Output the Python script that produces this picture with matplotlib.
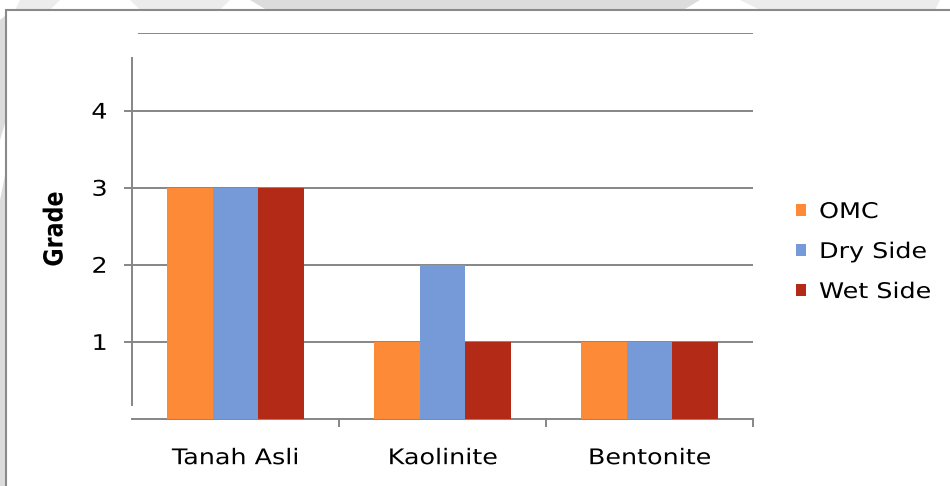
import matplotlib
matplotlib.use("Agg")
import matplotlib.pyplot as plt
import numpy as np
from matplotlib.patches import Rectangle, Polygon
from matplotlib.patheffects import AbstractPathEffect
from matplotlib.transforms import Affine2D

# ---- data ---------------------------------------------------------------
categories = ["Tanah Asli", "Kaolinite", "Bentonite"]
series_names = ["OMC", "Dry Side", "Wet Side"]
omc = [3, 1, 1]
dry_side = [3, 2, 1]
wet_side = [3, 1, 1]
y_ticks = [1, 2, 3, 4]
y_label = "Grade"

series_values = [omc, dry_side, wet_side]
series_colors = ["#FD8A37", "#7699D7", "#B32B17"]

W, H = 950, 486
GRID = "#868686"


class WideText(AbstractPathEffect):
    """Draw text stretched horizontally (Verdana-like wide letterforms)."""

    def __init__(self, sx=1.18, anchor="center"):
        super().__init__()
        self.sx = sx
        self.anchor = anchor

    def draw_path(self, renderer, gc, tpath, affine, rgbFace=None):
        if not len(tpath.vertices):
            renderer.draw_path(gc, tpath, affine, rgbFace)
            return
        verts = affine.transform(tpath.vertices)
        if self.anchor == "left":
            cx = verts[:, 0].min()
        elif self.anchor == "right":
            cx = verts[:, 0].max()
        else:
            cx = 0.5 * (verts[:, 0].min() + verts[:, 0].max())
        aff = affine + Affine2D().translate(-cx, 0).scale(self.sx, 1).translate(cx, 0)
        renderer.draw_path(gc, tpath, aff, rgbFace)


def fx(x):
    return x / W


def fy(y):
    return 1 - y / H


plt.rcParams["font.family"] = ["DejaVu Sans"]
fig = plt.figure(figsize=(W / 100, H / 100), dpi=100)
fig.patch.set_facecolor("white")

# faint background print around the chart frame
wm = "#dcdcdc"
for pts in [
    [(250, 0), (700, 0), (680, 12), (270, 12)],
    [(0, 200), (6, 170), (6, 486), (0, 486)],
    [(0, 20), (6, 15), (6, 120), (0, 140)],
]:
    fig.patches.append(Polygon([(fx(a), fy(b)) for a, b in pts], closed=True,
                               transform=fig.transFigure, facecolor=wm,
                               edgecolor="none", zorder=0))
for pts in [
    [(20, 0), (60, 0), (50, 10), (15, 10)],
    [(130, 0), (230, 0), (220, 10), (140, 10)],
    [(740, 0), (940, 0), (935, 10), (760, 10)],
]:
    fig.patches.append(Polygon([(fx(a), fy(b)) for a, b in pts], closed=True,
                               transform=fig.transFigure, facecolor="#ececec",
                               edgecolor="none", zorder=0))

# chart area frame
fig.patches.append(Rectangle((fx(6), fy(490)), fx(960) - fx(6), fy(10) - fy(490),
                             transform=fig.transFigure, facecolor="white",
                             edgecolor="#8a8a8a", linewidth=1.5, zorder=1))

ax = fig.add_axes([fx(132), fy(419), fx(753) - fx(132), (419 - 33.5) / H])
ax.set_zorder(2)
ax.patch.set_alpha(0)

x = np.arange(len(categories))
bar_w = 0.2222
offsets = (np.arange(len(series_names)) - 1) * bar_w
for vals, name, col, off in zip(series_values, series_names, series_colors, offsets):
    ax.bar(x + off, vals, width=bar_w, color=col, label=name, zorder=3,
           linewidth=0)

ax.set_xlim(-0.5, len(categories) - 0.5)
ax.set_ylim(0, 5)

# gridlines / axes
ax.set_yticks(y_ticks)
ax.set_yticklabels([str(v) for v in y_ticks])
ax.yaxis.grid(True, color=GRID, linewidth=1.4)
ax.set_axisbelow(True)
ax.axhline(5, xmin=7 / 621, xmax=1, color=GRID, linewidth=1.4, zorder=1)
ax.tick_params(axis="y", length=5.8, width=1.4, color=GRID, direction="out",
               pad=12, labelsize=15.5, labelcolor="black")

ax.set_xticks(x)
ax.set_xticklabels(categories)
ax.set_xticks(list(x[:-1] + 0.5) + [len(categories) - 0.5], minor=True)
ax.tick_params(axis="x", which="major", length=0, pad=21, labelsize=15.5)
ax.tick_params(axis="x", which="minor", length=5.8, width=1.4, color=GRID,
               direction="out")

for s in ["top", "right"]:
    ax.spines[s].set_visible(False)
ax.spines["left"].set_color(GRID)
ax.spines["left"].set_linewidth(1.4)
ax.spines["left"].set_bounds(0.18, 4.68)
ax.spines["bottom"].set_color(GRID)
ax.spines["bottom"].set_linewidth(1.4)

for lbl in ax.get_xticklabels():
    lbl.set_path_effects([WideText(1.18, "center")])
for lbl in ax.get_yticklabels():
    lbl.set_path_effects([WideText(1.18, "right")])

fig.text(fx(55), fy(229), y_label, rotation=90, ha="center", va="center",
         fontsize=16, fontweight="bold",
         path_effects=[WideText(1.18, "center")])

leg = ax.legend(loc="center left", bbox_to_anchor=(fx(796), fy(252)),
                bbox_transform=fig.transFigure, frameon=False, fontsize=15.5,
                handlelength=0.47, handleheight=0.47, handletextpad=0.6,
                labelspacing=0.93, borderpad=0, borderaxespad=0)
for t in leg.get_texts():
    t.set_path_effects([WideText(1.18, "left")])

fig.savefig("out.png", dpi=100, facecolor=fig.get_facecolor())
